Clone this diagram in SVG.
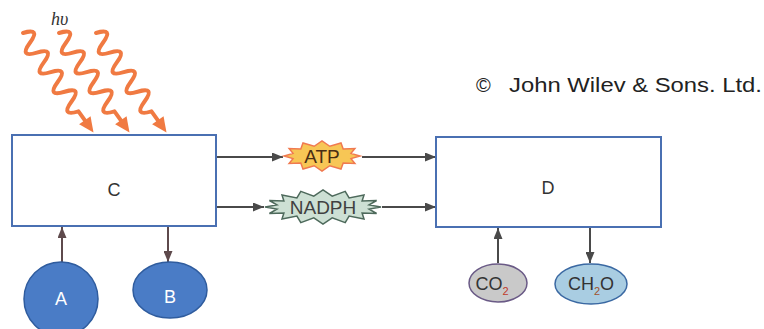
<svg xmlns="http://www.w3.org/2000/svg" width="764" height="329" viewBox="0 0 764 329">
<defs>
<marker id="ah" markerUnits="userSpaceOnUse" markerWidth="11" markerHeight="9" refX="11" refY="4.5" orient="auto">
<path d="M0,0 L11,4.5 L0,9 z" fill="#4a4a4a"/>
</marker>
<marker id="ahb" markerUnits="userSpaceOnUse" markerWidth="11" markerHeight="9" refX="11" refY="4.5" orient="auto">
<path d="M0,0 L11,4.5 L0,9 z" fill="#5e4a4c"/>
</marker>
<path id="wave" d="M0,0 Q6,-18 12,0 T24,0 T36,0 T48,0 T60,0 T72,0 T84,0 T96,0 L109,0" fill="none" stroke="#f07a42" stroke-width="4" stroke-linecap="round" stroke-linejoin="round"/>
<polygon id="waveHead" points="122,0 107,-7 107,7" fill="#f07a42"/>
</defs>
<style>
text{font-family:"Liberation Sans",Arial,sans-serif}
.box{fill:#ffffff;stroke:#4a70b2;stroke-width:2}
.lbl{font-size:18px;fill:#333333;text-anchor:middle}
.wl{font-size:18px;fill:#ffffff;text-anchor:middle}
.ln{stroke:#4a4a4a;stroke-width:2;fill:none;marker-end:url(#ah)}
.lnb{stroke:#5e4a4c;stroke-width:2;fill:none;marker-end:url(#ahb)}
</style>
<rect width="764" height="329" fill="#ffffff"/>

<g id="connectors">
<g transform="translate(23,33) rotate(54.7)"><use href="#wave"/><use href="#waveHead"/></g>
<g transform="translate(59,33) rotate(54.7)"><use href="#wave"/><use href="#waveHead"/></g>
<g transform="translate(96,33) rotate(54.7)"><use href="#wave"/><use href="#waveHead"/></g>
<line class="ln" x1="217" y1="157" x2="283" y2="157"/>
<line class="ln" x1="362" y1="157" x2="436" y2="157"/>
<line class="ln" x1="217" y1="207" x2="264" y2="207"/>
<line class="ln" x1="382" y1="207" x2="436" y2="207"/>
<line class="lnb" x1="62" y1="262" x2="62" y2="227"/>
<line class="lnb" x1="168" y1="226" x2="168" y2="262"/>
<line class="ln" x1="498" y1="263" x2="498" y2="228"/>
<line class="ln" x1="590" y1="228" x2="590" y2="263"/>
</g>

<g id="hv"><text x="51" y="25" font-size="18" font-style="italic" fill="#333333" style="font-family:'Liberation Serif',serif">hυ</text></g>

<g id="copyright"><text x="476" y="92" font-size="20" fill="#222222">©<tspan x="509" textLength="253" lengthAdjust="spacingAndGlyphs">John Wilev &amp; Sons. Ltd.</tspan></text></g>

<g id="C"><rect class="box" x="12" y="135" width="204" height="91"/><text class="lbl" x="114" y="196">C</text></g>
<g id="D"><rect class="box" x="436" y="137" width="225" height="90"/><text class="lbl" x="548" y="194">D</text></g>

<g id="ATP" transform="translate(322,156)">
<polygon points="38,0 29,2.6 32.9,7.5 21.2,7.1 19,13 7.8,9.7 0,15 -7.8,9.7 -19,13 -21.2,7.1 -32.9,7.5 -29,2.6 -38,0 -29,-2.6 -32.9,-7.5 -21.2,-7.1 -19,-13 -7.8,-9.7 0,-15 7.8,-9.7 19,-13 21.2,-7.1 32.9,-7.5 29,-2.6" fill="#f7c655" stroke="#f07a50" stroke-width="1.5" stroke-linejoin="miter"/>
<text x="0" y="7" font-size="19" fill="#4a2e14" text-anchor="middle">ATP</text>
</g>

<g id="NADPH" transform="translate(323,207)">
<polygon points="58,0 46.1,2.1 53.6,6.5 39.1,6.1 41,12 26.1,9.1 22.2,15.7 9.2,10.8 0,17 -9.2,10.8 -22.2,15.7 -26.1,9.1 -41,12 -39.1,6.1 -53.6,6.5 -46.1,2.1 -58,0 -46.1,-2.1 -53.6,-6.5 -39.1,-6.1 -41,-12 -26.1,-9.1 -22.2,-15.7 -9.2,-10.8 0,-17 9.2,-10.8 22.2,-15.7 26.1,-9.1 41,-12 39.1,-6.1 53.6,-6.5 46.1,-2.1" fill="#cde0d4" stroke="#4e6a5c" stroke-width="1.5"/>
<text x="0" y="7" font-size="19" fill="#404040" text-anchor="middle">NADPH</text>
</g>

<g id="A"><circle cx="61" cy="299" r="37" fill="#4a7cc6" stroke="#2f5c9e" stroke-width="1.5"/><text class="wl" x="61" y="305">A</text></g>
<g id="B"><ellipse cx="170" cy="290" rx="37" ry="28" fill="#4a7cc6" stroke="#2f5c9e" stroke-width="1.5"/><text class="wl" x="170" y="303">B</text></g>

<g id="CO2"><ellipse cx="498" cy="283" rx="29" ry="19" fill="#c9c9c9" stroke="#6a5a86" stroke-width="1.5"/><text x="492" y="290" font-size="18" fill="#333333" text-anchor="middle">CO<tspan font-size="11" fill="#c0392b" dy="5">2</tspan></text></g>
<g id="CH2O"><ellipse cx="591" cy="284" rx="36" ry="20" fill="#a9cde2" stroke="#3a68a2" stroke-width="1.5"/><text x="591" y="290" font-size="18" fill="#333333" text-anchor="middle">CH<tspan font-size="11" fill="#a0522d" dy="5">2</tspan><tspan dy="-5">O</tspan></text></g>
</svg>
